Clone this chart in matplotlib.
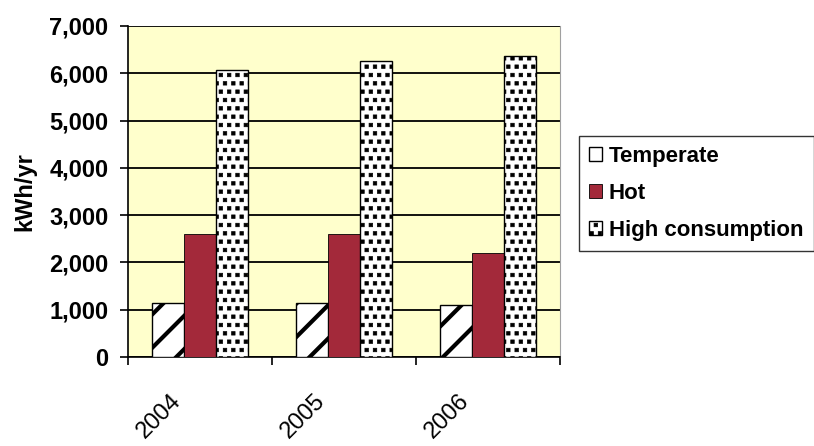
import numpy as np
import matplotlib.pyplot as plt
import matplotlib.hatch as mhatch
from matplotlib.path import Path
from matplotlib.transforms import ScaledTranslation

plt.rcParams['font.family'] = ['Liberation Sans', 'DejaVu Sans']

years = ['2004', '2005', '2006']
temperate = [1150, 1150, 1100]
hot = [2600, 2600, 2200]
high_consumption = [6070, 6260, 6360]


# Excel-like pattern of small filled squares for the '.' hatch
class SquareDots(mhatch.Shapes):
    size = 0.42
    filled = True

    def __init__(self, hatch, density):
        self.num_rows = hatch.count('.') * density
        path = Path.unit_rectangle()
        self.shape_vertices = path.vertices - 0.5
        self.shape_codes = path.codes
        super().__init__(hatch, density)


mhatch._hatch_types = [SquareDots if t is mhatch.SmallFilledCircles else t
                       for t in mhatch._hatch_types]

fig = plt.figure(figsize=(8.14, 4.46), dpi=100)
ax = fig.add_axes([128 / 814, 89 / 446, 432 / 814, 331 / 446])
ax.set_facecolor('#FFFFCC')

x = np.arange(len(years))
w = 0.222

plt.rcParams['hatch.linewidth'] = 3.0
b1 = ax.bar(x - w, temperate, w, color='white', edgecolor='black', linewidth=1.0,
            hatch='/', label='Temperate', zorder=3)
b2 = ax.bar(x, hot, w, color='#A3293A', edgecolor='black', linewidth=0.6,
            label='Hot', zorder=3)
plt.rcParams['hatch.linewidth'] = 0.5
b3 = ax.bar(x + w, high_consumption, w, color='white', edgecolor='black', linewidth=1.0,
            hatch='..', label='High consumption', zorder=3)

ax.set_xlim(-0.5, 2.5)
ax.set_ylim(0, 7000)
ax.set_yticks(np.arange(0, 7001, 1000))
ax.set_yticklabels([f'{v:,}' for v in range(0, 7001, 1000)], fontsize=17, fontweight='bold')
ax.yaxis.grid(True, color='black', linewidth=1.3, zorder=1)
ax.set_axisbelow(True)

# category ticks sit on the boundaries, labels under the group centres
ax.set_xticks([-0.5, 0.5, 1.5, 2.5])
ax.set_xticklabels([])
ax.set_xticks(x, minor=True)
ax.set_xticklabels(years, minor=True, rotation=45, ha='right', va='top',
                   rotation_mode='anchor', fontsize=17)
ax.tick_params(axis='x', which='minor', length=0, pad=0)
for lab in ax.get_xticklabels(minor=True):
    lab.set_transform(lab.get_transform() + ScaledTranslation(-0.30, -0.33, fig.dpi_scale_trans))
ax.tick_params(axis='x', which='major', length=6, width=1.2, direction='out')
ax.tick_params(axis='y', length=6, width=1.2, direction='out', pad=8)

ax.set_ylabel('kWh/yr', fontsize=17, fontweight='bold', labelpad=9)

ax.spines['top'].set_visible(False)
ax.spines['right'].set_color('#A0A0A0')
ax.spines['left'].set_linewidth(1.2)
ax.spines['bottom'].set_linewidth(1.2)

leg = fig.legend(handles=[b1, b2, b3], loc='upper left', bbox_to_anchor=(579 / 814, 1 - 136 / 446),
                 prop={'size': 16, 'weight': 'bold'}, frameon=True, fancybox=False,
                 edgecolor='black', handlelength=0.6, handleheight=0.6, handletextpad=0.3,
                 labelspacing=0.72, borderpad=0.45, borderaxespad=0)
leg.get_frame().set_linewidth(1.0)

fig.savefig('out.png', dpi=100)
